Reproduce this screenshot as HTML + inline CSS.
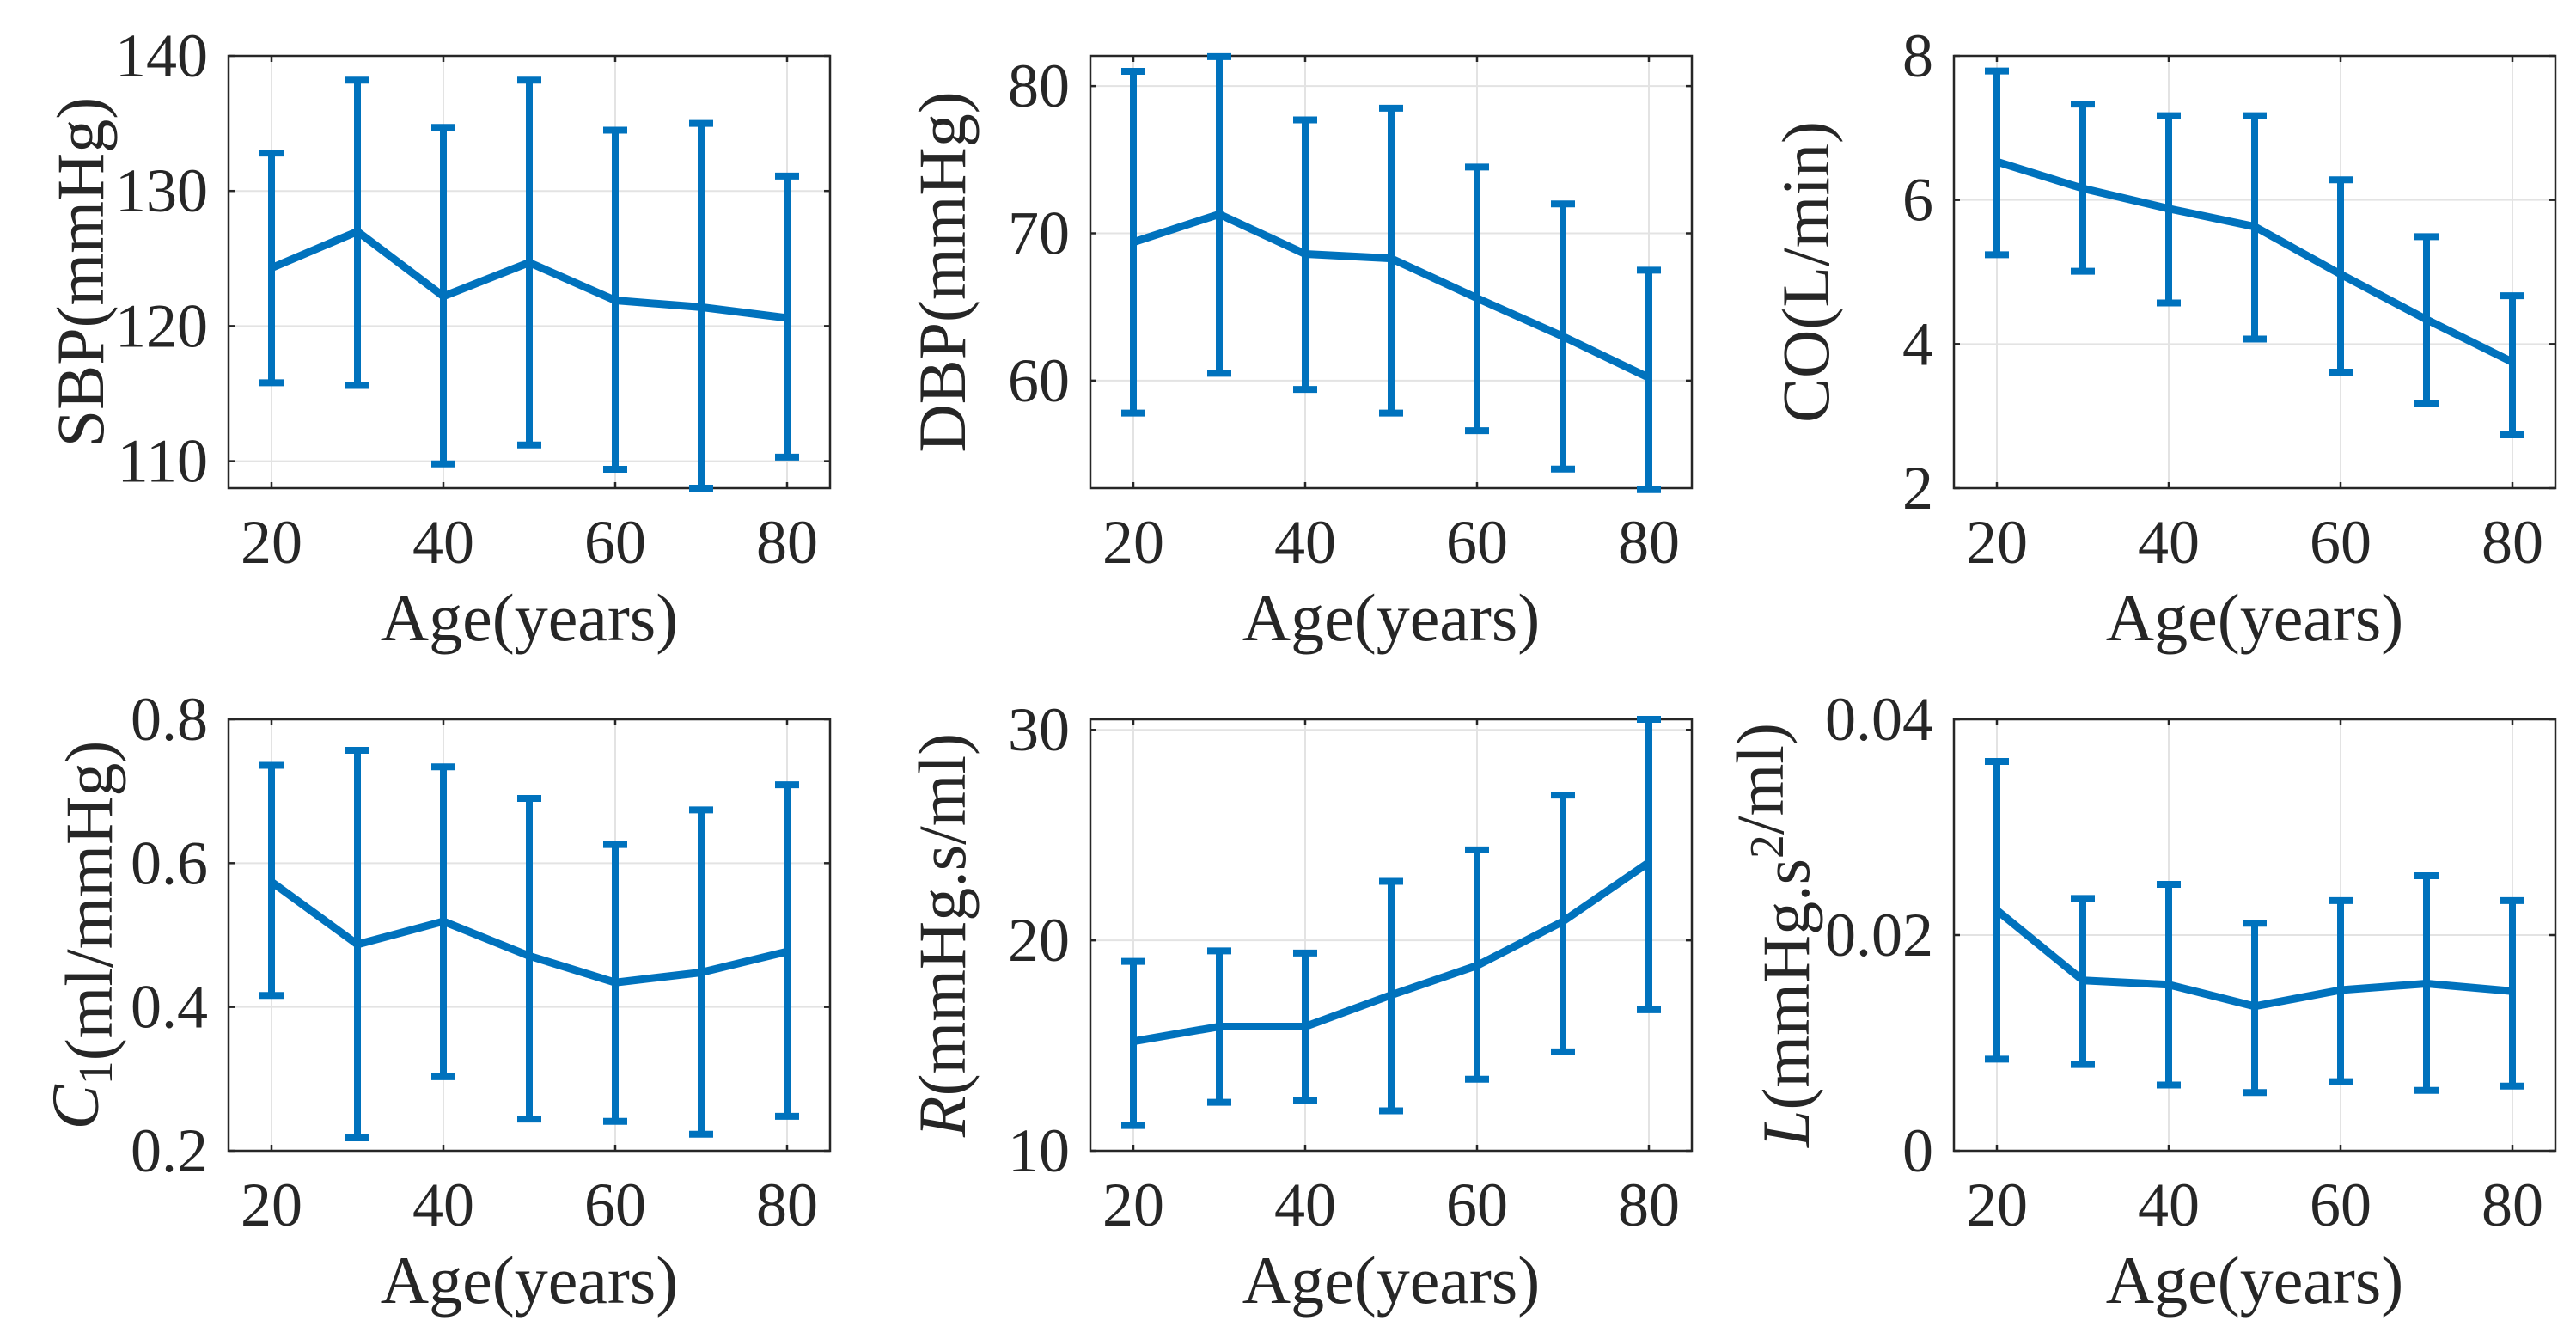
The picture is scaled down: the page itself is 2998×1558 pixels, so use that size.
<!DOCTYPE html>
<html><head><meta charset="utf-8"><style>
html,body{margin:0;padding:0;background:#fff;overflow:hidden;}
svg{display:block;font-family:"Liberation Serif",serif;}
</style></head><body>
<svg id="fig" width="2998" height="1558" viewBox="0 0 2998 1558" xmlns="http://www.w3.org/2000/svg"></svg>
<script>
const ages = [20,30,40,50,60,70,80];
const sbpMean = [124.3,127.0,122.2,124.7,121.9,121.4,120.6];
const sbpUpper = [132.8,138.2,134.7,138.2,134.5,135.0,131.1];
const sbpLower = [115.8,115.6,109.8,111.2,109.4,108.0,110.3];
const dbpMean = [69.4,71.3,68.6,68.3,65.6,63.0,60.2];
const dbpUpper = [81.0,82.0,77.7,78.5,74.5,72.0,67.5];
const dbpLower = [57.8,60.5,59.4,57.8,56.6,54.0,52.6];
const coMean = [6.53,6.16,5.88,5.63,4.97,4.34,3.75];
const coUpper = [7.79,7.33,7.17,7.17,6.28,5.49,4.67];
const coLower = [5.24,5.01,4.57,4.07,3.61,3.17,2.74];
const c1Mean = [0.574,0.487,0.519,0.471,0.434,0.448,0.477];
const c1Upper = [0.736,0.757,0.734,0.690,0.626,0.674,0.709];
const c1Lower = [0.416,0.218,0.303,0.244,0.241,0.223,0.248];
const rMean = [15.2,15.9,15.9,17.4,18.8,20.9,23.7];
const rUpper = [19.0,19.5,19.4,22.8,24.3,26.9,30.5];
const rLower = [11.2,12.3,12.4,11.9,13.4,14.7,16.7];
const lMean = [0.0223,0.0158,0.0154,0.0134,0.0149,0.0155,0.0148];
const lUpper = [0.0361,0.0234,0.0247,0.0211,0.0232,0.0255,0.0232];
const lLower = [0.0085,0.0080,0.0061,0.0054,0.0064,0.0056,0.0060];
const xTicks = [20,40,60,80];
const sbpTicks = [110,120,130,140];
const dbpTicks = [60,70,80];
const coTicks = [2,4,6,8];
const c1Ticks = [0.2,0.4,0.6,0.8];
const c1TickLabels = ["0.2","0.4","0.6","0.8"];
const rTicks = [10,20,30];
const lTicks = [0,0.02,0.04];
const lTickLabels = ["0","0.02","0.04"];

const NS = "http://www.w3.org/2000/svg";
const svg = document.getElementById('fig');
const BLUE = "#0072BD";
function mk(tag, attrs, parent){
  const e = document.createElementNS(NS, tag);
  for (const k in attrs) e.setAttribute(k, attrs[k]);
  (parent||svg).appendChild(e);
  return e;
}
const panels = [
  {name:'sbp', left:266, top:65, h:503, ymin:108, ymax:140, ticks:sbpTicks, labels:null, mean:sbpMean, up:sbpUpper, lo:sbpLower, yoff:172, ylab:[["SBP(mmHg)",""]]},
  {name:'dbp', left:1269, top:65, h:503, ymin:52.7, ymax:82.05, ticks:dbpTicks, labels:null, mean:dbpMean, up:dbpUpper, lo:dbpLower, yoff:172, ylab:[["DBP(mmHg)",""]]},
  {name:'co', left:2274, top:65, h:503, ymin:2, ymax:8, ticks:coTicks, labels:null, mean:coMean, up:coUpper, lo:coLower, yoff:172, ylab:[["CO(L/min)",""]]},
  {name:'c1', left:266, top:837, h:502, ymin:0.2, ymax:0.8, ticks:c1Ticks, labels:c1TickLabels, mean:c1Mean, up:c1Upper, lo:c1Lower, yoff:178, ylab:[["C","i"],["1","sub"],["(ml/mmHg)",""]]},
  {name:'r', left:1269, top:837, h:502, ymin:10, ymax:30.5, ticks:rTicks, labels:null, mean:rMean, up:rUpper, lo:rLower, yoff:172, ylab:[["R","i"],["(mmHg.s/ml)",""]]},
  {name:'l', left:2274, top:837, h:502, ymin:0, ymax:0.04, ticks:lTicks, labels:lTickLabels, mean:lMean, up:lUpper, lo:lLower, yoff:195, ylab:[["L","i"],["(mmHg.s",""],["2","sup"],["/ml)",""]]}
];
const W = 700;
panels.forEach(p=>{
  const g = mk('g',{});
  
  
  const xs = v => p.left + 50 + (v-20)*10;
  const ys = v => p.top + p.h - (v-p.ymin)/(p.ymax-p.ymin)*p.h;
  const bottom = p.top + p.h, right = p.left + W;
  xTicks.forEach(t=>{ const l=mk('line',{x1:xs(t),x2:xs(t),y1:p.top,y2:bottom,stroke:'#e3e3e3','stroke-width':2},g);
      });
  p.ticks.forEach(t=>{ const l=mk('line',{x1:p.left,x2:right,y1:ys(t),y2:ys(t),stroke:'#e3e3e3','stroke-width':2},g);
      });
  const box = mk('rect',{x:p.left,y:p.top,width:W,height:p.h,fill:'none',stroke:'#262626','stroke-width':2.5},g);
   
  xTicks.forEach(t=>{
    mk('line',{x1:xs(t),x2:xs(t),y1:bottom,y2:bottom-7,stroke:'#262626','stroke-width':2.5},g);
    mk('line',{x1:xs(t),x2:xs(t),y1:p.top,y2:p.top+7,stroke:'#262626','stroke-width':2.5},g);
    const tx = mk('text',{x:xs(t),y:bottom+87,'text-anchor':'middle','font-size':72,fill:'#262626'},g);
    tx.textContent = t;
     
  });
  p.ticks.forEach((t,i)=>{
    mk('line',{x1:p.left,x2:p.left+7,y1:ys(t),y2:ys(t),stroke:'#262626','stroke-width':2.5},g);
    mk('line',{x1:right,x2:right-7,y1:ys(t),y2:ys(t),stroke:'#262626','stroke-width':2.5},g);
    const tx = mk('text',{x:p.left-24,y:ys(t)+24,'text-anchor':'end','font-size':72,fill:'#262626'},g);
    tx.textContent = p.labels ? p.labels[i] : t;
     
  });
  const xl = mk('text',{x:p.left+W/2,y:bottom+177,'text-anchor':'middle','font-size':78,fill:'#262626'},g);
  xl.textContent = 'Age(years)';
   
  const cy = p.top + p.h/2;
  const yl = mk('text',{x:0,y:0,'text-anchor':'middle','font-size':78,fill:'#262626',transform:`translate(${p.left-p.yoff+26},${cy}) rotate(-90)`},g);
   
  p.ylab.forEach(([s,st])=>{
    const ts = mk('tspan',{},yl);
    if (st==='i') ts.setAttribute('font-style','italic');
    if (st==='sub'){ ts.setAttribute('font-size','56'); ts.setAttribute('dy','16'); }
    if (st==='sup'){ ts.setAttribute('font-size','56'); ts.setAttribute('dy','-30'); }
    ts.textContent = s;
    if (st==='sub'){ const r=mk('tspan',{dy:'-16'},yl); r.textContent=''; }
    if (st==='sup'){ const r=mk('tspan',{dy:'30'},yl); r.textContent=''; }
  });
  ages.forEach((a,i)=>{
    const eb = mk('g',{stroke:BLUE,'stroke-width':8},g);
     
    mk('line',{x1:xs(a),x2:xs(a),y1:ys(p.lo[i]),y2:ys(p.up[i])},eb);
    mk('line',{x1:xs(a)-14,x2:xs(a)+14,y1:ys(p.lo[i]),y2:ys(p.lo[i])},eb);
    mk('line',{x1:xs(a)-14,x2:xs(a)+14,y1:ys(p.up[i]),y2:ys(p.up[i])},eb);
  });
  const pts = ages.map((a,i)=>xs(a)+','+ys(p.mean[i])).join(' ');
  const ln = mk('polyline',{points:pts,fill:'none',stroke:BLUE,'stroke-width':9,'stroke-linejoin':'round'},g);
   
});
</script>
</body></html>
